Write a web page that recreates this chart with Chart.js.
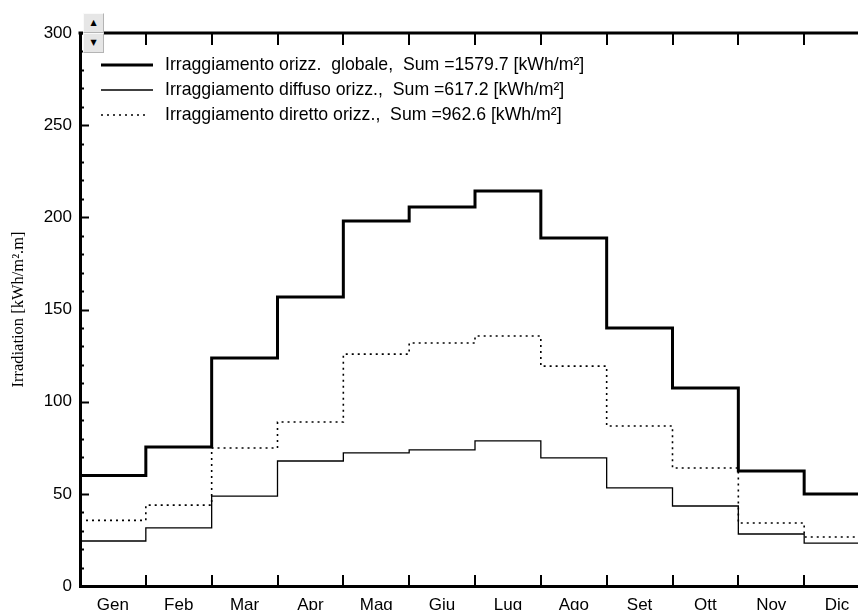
<!DOCTYPE html>
<html>
<head>
<meta charset="utf-8">
<script src="https://cdn.jsdelivr.net/npm/chart.js@4/dist/chart.umd.min.js"></script>
<style>
  html, body { margin: 0; padding: 0; background: #fff; overflow: hidden; }
  #wrap { position: absolute; left: 0; top: 0; width: 880px; height: 630px; }
  .btn { position: absolute; left: 83px; width: 19px; height: 18px; background: #e6e6e6;
         border: 1px solid #b4b4b4; border-top-color: #fafafa; border-left-color: #fafafa;
         font: 8px "DejaVu Sans", sans-serif; color: #000; text-align: center; line-height: 18px; }
</style>
</head>
<body>
<div id="wrap"><canvas id="myChart" width="880" height="630"></canvas></div>
<div class="btn" style="top:13px">▲</div>
<div class="btn" style="top:33px">▼</div>
<script>
//mesi
var months = ['Gen','Feb','Mar','Apr','Mag','Giu','Lug','Ago','Set','Ott','Nov','Dic'];
//valori mensili [kWh/m2]
var globale = [60.0, 75.4, 123.7, 156.8, 198.0, 205.6, 214.3, 188.8, 140.0, 107.4, 62.4, 49.9];
var diffuso = [24.4, 31.5, 48.8, 67.8, 72.2, 73.8, 78.7, 69.5, 53.2, 43.4, 28.2, 23.3];
var diretto = [35.6, 43.9, 74.9, 89.0, 125.8, 131.8, 135.6, 119.3, 86.8, 64.0, 34.2, 26.6];
//legenda
var series_names = ['Irraggiamento orizz.  globale,', 'Irraggiamento diffuso orizz.,', 'Irraggiamento diretto orizz.,'];
var sums = ['1579.7', '617.2', '962.6'];
var y_ticks = [0, 50, 100, 150, 200, 250, 300];

//gradini: punto a inizio mese, piu' uno di chiusura a fine anno
function to_steps(arr){
    var pts = arr.map(function(v, i){ return {x: i, y: v}; });
    pts.push({x: arr.length, y: arr[arr.length - 1]});
    return pts;
}

//tacche interne e bordo superiore
var frame_plugin = {
    id: 'frame',
    afterDraw: function(chart){
        var ctx = chart.ctx, a = chart.chartArea;
        var y = chart.scales.y, xl = chart.scales.xl;
        ctx.save();
        ctx.strokeStyle = '#000';
        ctx.lineWidth = 3;
        ctx.beginPath(); ctx.moveTo(a.left - 1.5, a.top); ctx.lineTo(a.right, a.top); ctx.stroke();
        ctx.lineWidth = 2;
        ctx.beginPath();
        for (var v = 0; v <= 300; v += 10) {
            var py = Math.round(y.getPixelForValue(v)) + 0.5;
            var len = (v % 50 == 0) ? 9 : 4;
            ctx.moveTo(a.left, py); ctx.lineTo(a.left + len, py);
        }
        for (var i = 1; i < months.length; i++) {
            var px = Math.round(xl.getPixelForValue(i));
            ctx.moveTo(px, a.bottom); ctx.lineTo(px, a.bottom - 11);
            ctx.moveTo(px, a.top); ctx.lineTo(px, a.top + 12);
        }
        ctx.stroke();
        ctx.restore();
    }
};

//legenda dentro l'area del grafico
var legend_plugin = {
    id: 'inlegend',
    afterDraw: function(chart){
        var ctx = chart.ctx, a = chart.chartArea;
        ctx.save();
        chart.data.datasets.forEach(function(ds, i){
            var ly = a.top + 32 + i * 25;
            ctx.strokeStyle = '#000';
            ctx.lineWidth = ds.borderWidth;
            ctx.setLineDash(ds.borderDash || []);
            ctx.beginPath();
            ctx.moveTo(a.left + 21, ly);
            ctx.lineTo(a.left + (ds.borderDash ? 66 : 73), ly);
            ctx.stroke();
            ctx.setLineDash([]);
            ctx.fillStyle = '#000';
            ctx.font = '17.7px "Liberation Sans", Arial, sans-serif';
            ctx.textBaseline = 'middle';
            ctx.fillText(series_names[i] + '  Sum =' + sums[i] + ' [kWh/m²]', a.left + 85, ly);
        });
        ctx.restore();
    }
};

var ctx = document.getElementById('myChart');
var chart = new Chart(ctx, {
    type: 'line',
    data: {
        labels: months,
        datasets: [
            {data: to_steps(globale), borderColor: '#000', borderWidth: 3, xAxisID: 'xl'},
            {data: to_steps(diffuso), borderColor: '#000', borderWidth: 1.3, xAxisID: 'xl'},
            {data: to_steps(diretto), borderColor: '#000', borderWidth: 1.6, borderDash: [2, 4], xAxisID: 'xl'}
        ]
    },
    options: {
        responsive: false,
        animation: false,
        devicePixelRatio: 1,
        layout: {padding: {top: 33, left: 0, right: 10, bottom: 0}},
        elements: {
            line: {stepped: 'before', tension: 0, fill: false, borderJoinStyle: 'miter', borderCapStyle: 'butt'},
            point: {radius: 0}
        },
        plugins: {legend: {display: false}, tooltip: {enabled: false}},
        scales: {
            x: {
                type: 'category',
                position: 'bottom',
                offset: true,
                grid: {display: false, drawTicks: false},
                border: {display: true, width: 3, color: '#000'},
                ticks: {color: '#000', font: {family: '"Liberation Sans", Arial, sans-serif', size: 17}, padding: 9, maxRotation: 0, autoSkip: false},
                afterFit: function(scale){ scale.height = 44; }
            },
            xl: {type: 'linear', min: 0, max: months.length, display: false},
            y: {
                type: 'linear',
                min: 0, max: 300,
                afterBuildTicks: function(scale){ scale.ticks = y_ticks.map(function(v){ return {value: v}; }); },
                grid: {display: false, drawTicks: false},
                border: {display: true, width: 3, color: '#000'},
                ticks: {color: '#000', font: {family: '"Liberation Sans", Arial, sans-serif', size: 17}, padding: 8},
                title: {
                    display: true,
                    text: 'Irradiation [kWh/m².m]',
                    color: '#000',
                    font: {family: '"Liberation Serif", "Times New Roman", serif', size: 16.5},
                    padding: {top: 9, bottom: 0}
                },
                afterFit: function(scale){ scale.width = 80; }
            }
        }
    },
    plugins: [frame_plugin, legend_plugin]
});
</script>
</body>
</html>
